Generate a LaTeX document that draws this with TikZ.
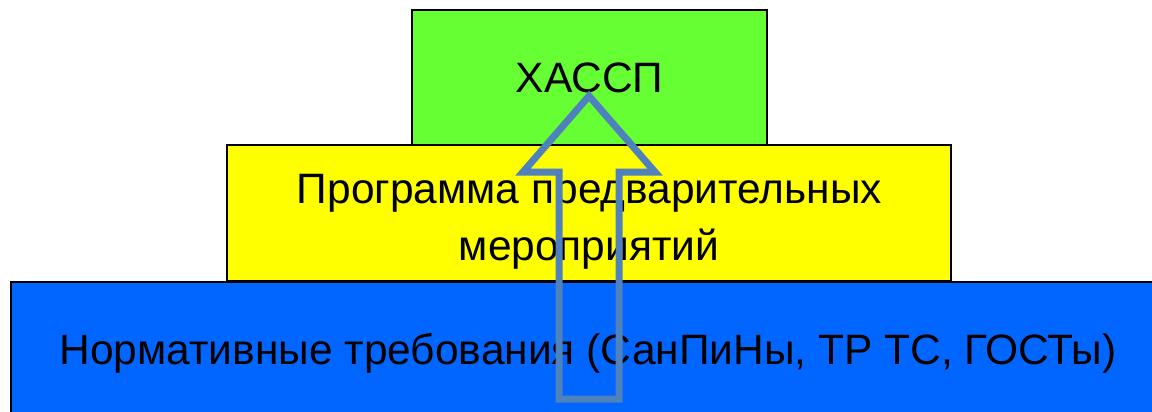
\documentclass[tikz,border=0pt]{standalone}
\usepackage{fontspec}
\setmainfont{Liberation Sans}
\definecolor{haccpgreen}{HTML}{66FF33}
\definecolor{prpyellow}{HTML}{FFFF00}
\definecolor{normblue}{HTML}{0066FF}
\definecolor{arrowblue}{HTML}{4F81BD}
\begin{document}
\begin{tikzpicture}[x=1pt,y=-1pt,
  tierfont/.style={font=\fontsize{42.5}{51}\selectfont},
  tier/.style={draw=black, line width=1.5pt, inner sep=0pt, align=center,
    tierfont, text height=30pt, text depth=0pt},
  tierline/.style={inner sep=0pt, anchor=base, tierfont}]
\useasboundingbox (0,0) rectangle (1152,412);
\begin{scope}
\clip (0,0) rectangle (1152,412);
% base tier: regulatory requirements
\node[tier, fill=normblue, minimum width=1154pt, minimum height=134pt]
  (norm) at (588,349) {Нормативные требования (СанПиНы, ТР ТС, ГОСТы)};
% middle tier: prerequisite programme, two lines of text
\node[tier, fill=prpyellow, minimum width=724pt, minimum height=136pt]
  (prp) at (589,213) {};
\node[tierline] (prpa) at (589.5,203) {Программа предварительных};
\node[tierline] (prpb) at (589,260) {мероприятий};
% top tier: HACCP
\node[tier, fill=haccpgreen, minimum width=355pt, minimum height=135pt]
  (haccp) at (589.5,77.5) {ХАССП};
% hollow upward block arrow through the tiers
\coordinate (tip) at (589,96);
\draw[arrowblue, line width=7pt, line join=miter]
  (559,399) -- (559,172) -- (523,172) -- (tip) -- (655,172)
  -- (619,172) -- (619,399) -- cycle;
\end{scope}
\end{tikzpicture}
\end{document}
